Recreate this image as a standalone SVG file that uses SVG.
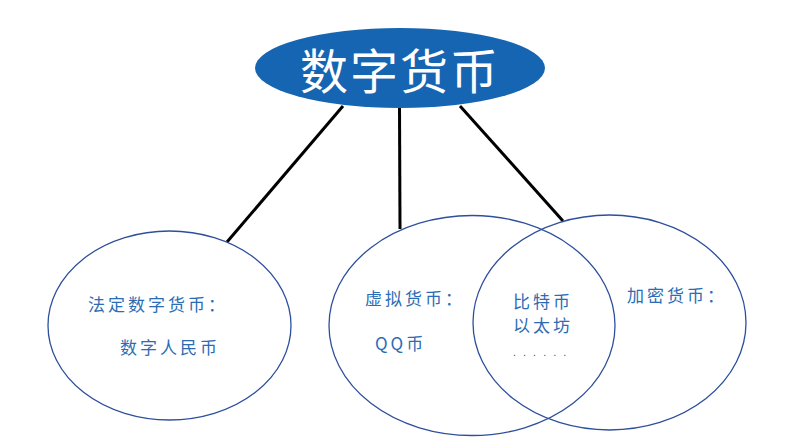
<svg xmlns="http://www.w3.org/2000/svg" width="792" height="445" viewBox="0 0 792 445">
<style>
.ring{fill:none;stroke:#2d4f9c;stroke-width:1.3}
.lbl{font-family:"Noto Sans CJK SC","Noto Sans",sans-serif;fill:#2b6cb4;font-size:17px;letter-spacing:3px}
.conn{stroke:#000;stroke-width:3;fill:none}
</style>
<rect width="792" height="445" fill="#fff"/>
<g id="connectors">
<line class="conn" x1="343" y1="106" x2="227" y2="242"/>
<line class="conn" x1="399.5" y1="107" x2="400" y2="229"/>
<line class="conn" x1="460" y1="106" x2="563" y2="221"/>
</g>
<g id="root">
<ellipse cx="400" cy="68" rx="145" ry="40" fill="#1565b3"/>
<text x="400" y="89" text-anchor="middle" font-family="'Noto Sans CJK SC','Noto Sans',sans-serif" font-size="48" fill="#fff" letter-spacing="2">数字货币</text>
</g>
<g id="legal">
<ellipse class="ring" cx="169.5" cy="325.5" rx="121.5" ry="94.5"/>
<text class="lbl" x="88" y="311">法定数字货币：</text>
<text class="lbl" x="120" y="354" font-size="16">数字人民币</text>
</g>
<g id="virtual">
<ellipse class="ring" cx="472" cy="325.5" rx="143" ry="110"/>
<text class="lbl" x="365" y="305">虚拟货币：</text>
<text class="lbl" x="375" y="350" font-size="15" letter-spacing="0.5">QQ币</text>
</g>
<g id="crypto">
<ellipse class="ring" cx="609.5" cy="322.5" rx="136.5" ry="107.5"/>
<text class="lbl" x="627" y="302">加密货币：</text>
</g>
<g id="overlap">
<text class="lbl" x="513" y="308" letter-spacing="2">比特币</text>
<text class="lbl" x="513" y="332" letter-spacing="2">以太坊</text>
<text x="513" y="356" font-family="'Liberation Sans',sans-serif" font-size="11" fill="#555" letter-spacing="7">......</text>
</g>
</svg>
